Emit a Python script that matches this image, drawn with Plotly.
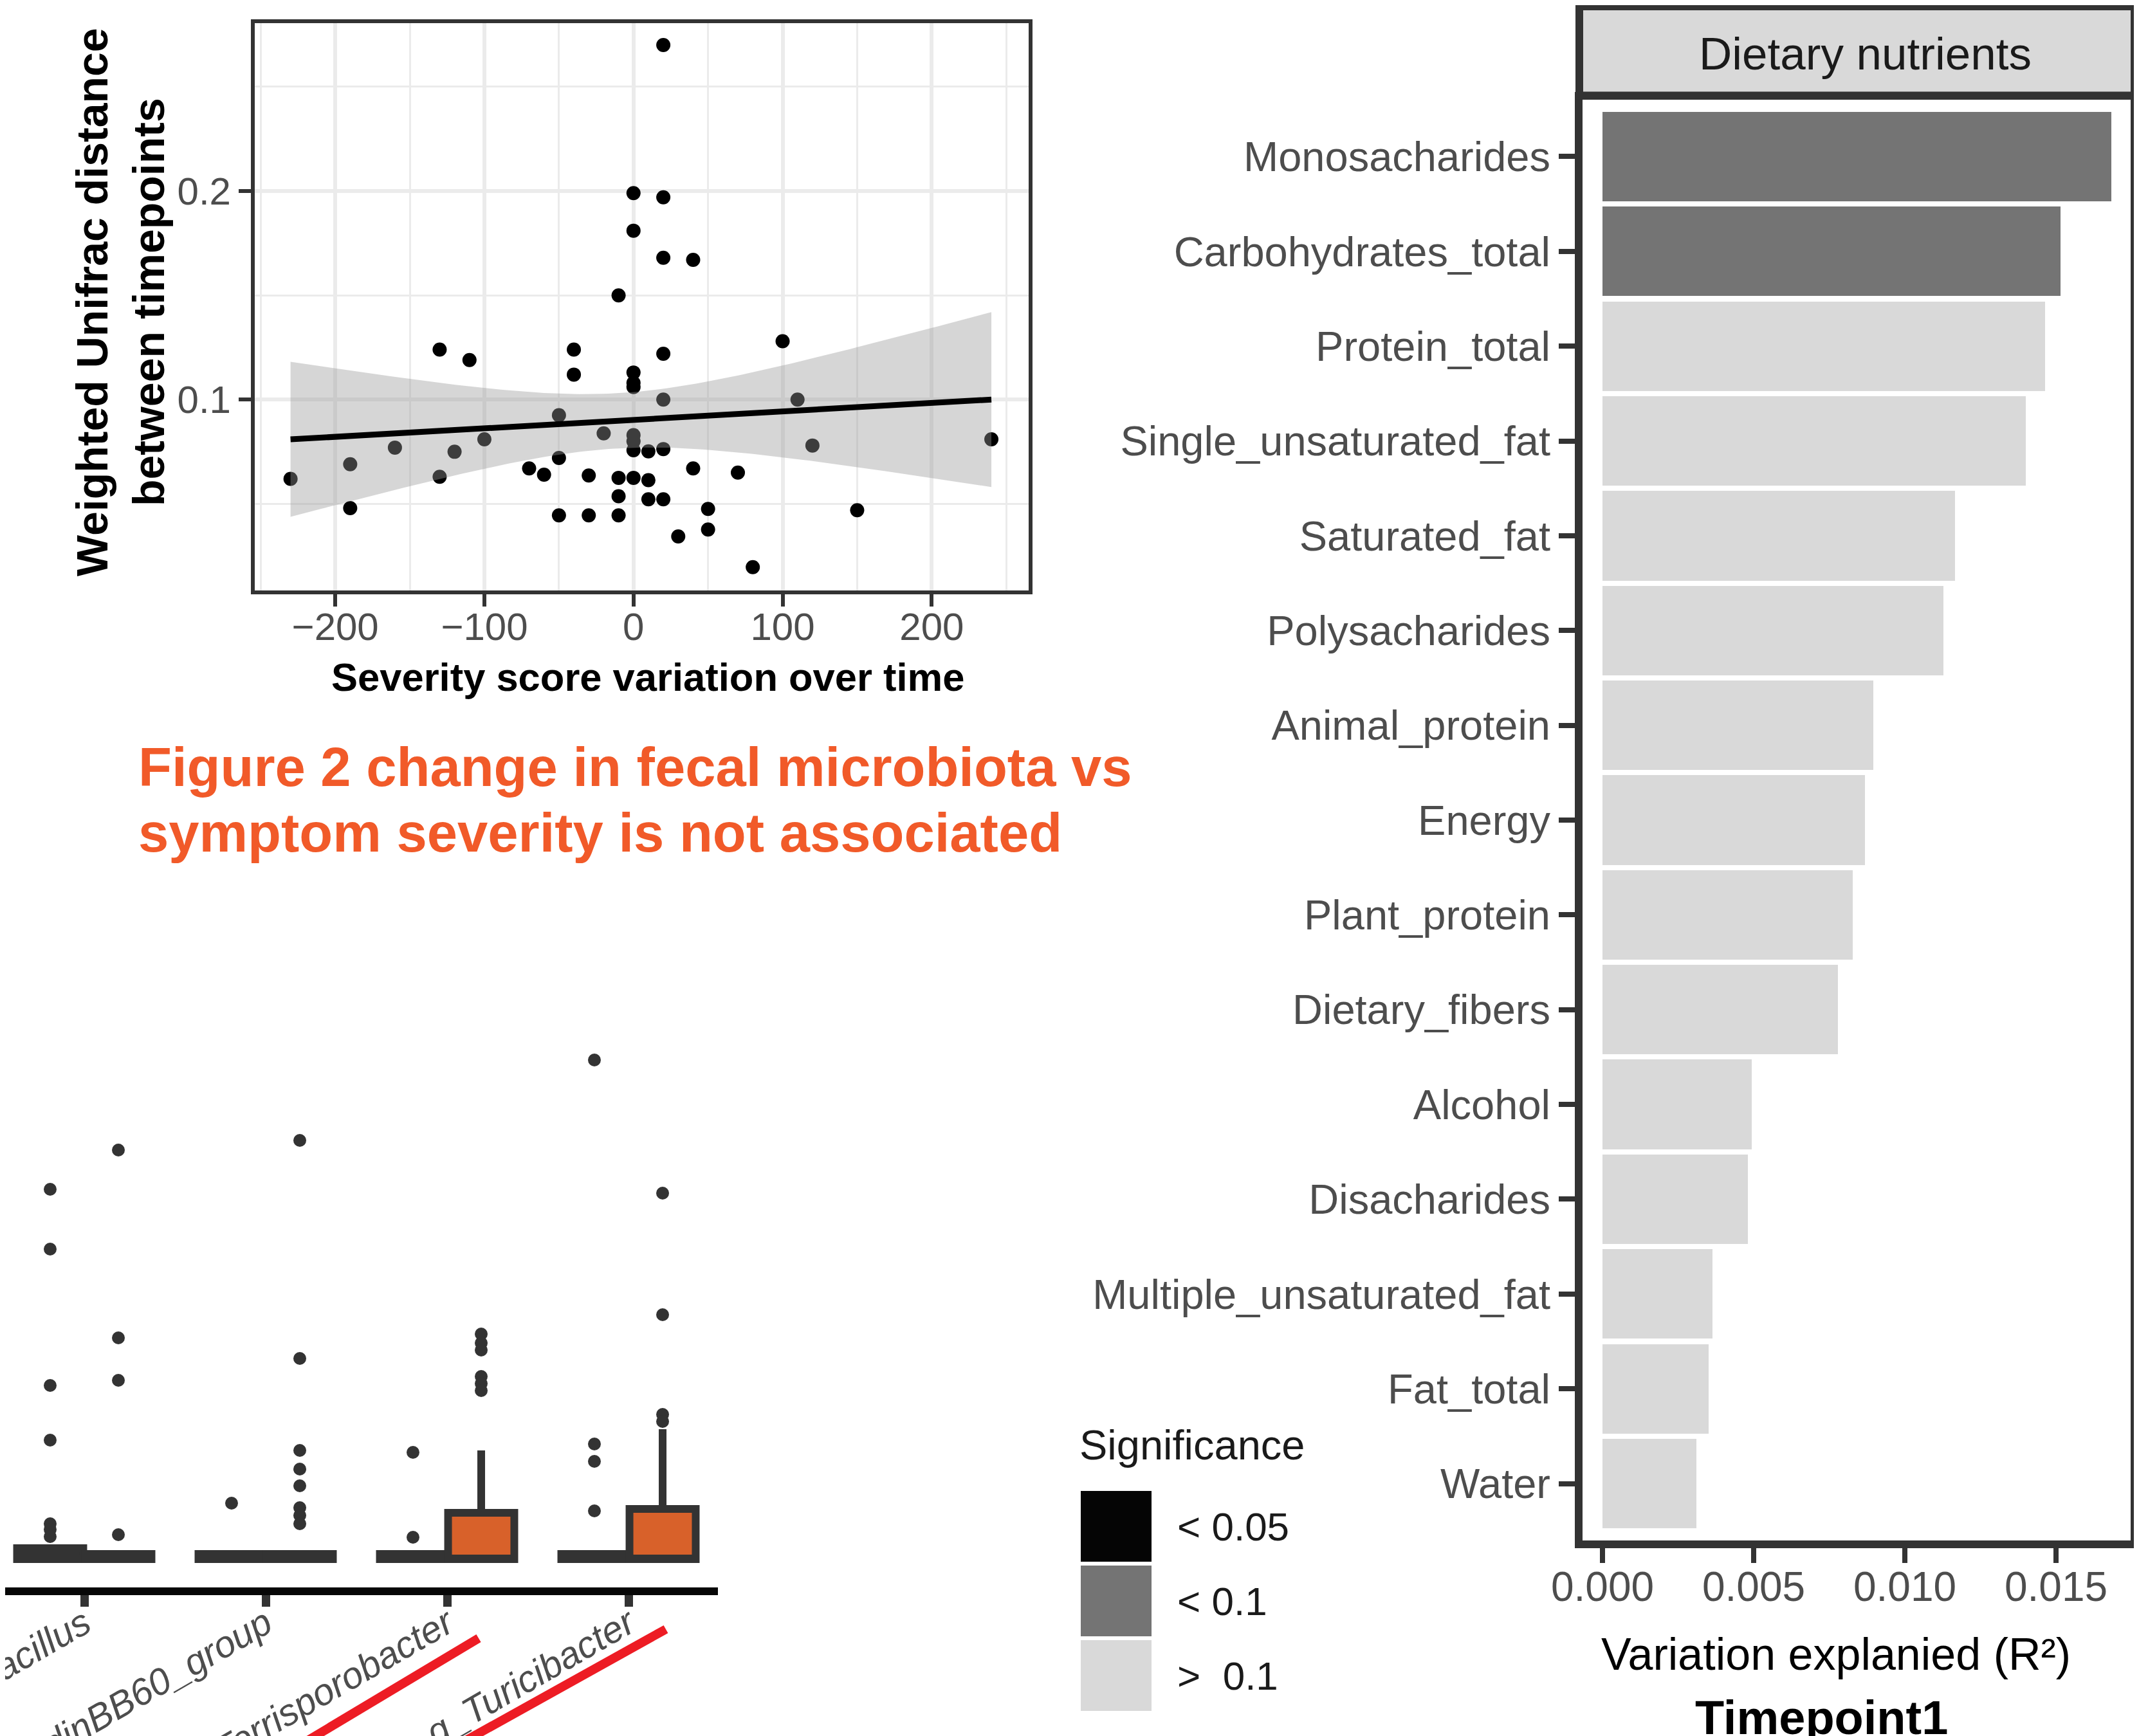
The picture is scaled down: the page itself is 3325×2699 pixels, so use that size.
import numpy as np
import plotly.graph_objects as go

W, H = 3325, 2699
OFF = 8  # page body margin compensation
FONT = "Liberation Sans, Arial, sans-serif"


def px(x):
    return (x - OFF) / W


def py(y):
    return 1 - (y - OFF) / H


# ---------------- Scatter data (panel top-left) ----------------
sev_x = [20, 0, 20, 0, 20, 40, -10, 100, -130, -40, 20, -110, -40, 0, 0, 0,
         20, 110, -50, -20, 0, 0, -100, -160, -120, 0, 10, 20, 120, 240,
         -190, -50, -70, -60, -130, -230, -30, -10, 0, 10, 40, 70, -10, 10,
         20, -190, -50, -30, -10, 50, 150, 50, 30, 80]
unifrac_y = [0.270, 0.199, 0.197, 0.181, 0.168, 0.167, 0.150, 0.128, 0.124,
             0.124, 0.122, 0.119, 0.112, 0.113, 0.108, 0.106, 0.100, 0.100,
             0.0925, 0.0838, 0.083, 0.080, 0.081, 0.077, 0.075, 0.0757,
             0.0752, 0.0763, 0.078, 0.081, 0.069, 0.072, 0.067, 0.064, 0.063,
             0.062, 0.0636, 0.0625, 0.0625, 0.0614, 0.067, 0.065, 0.0537,
             0.0522, 0.0522, 0.048, 0.0445, 0.0445, 0.0445, 0.0476, 0.047,
             0.0377, 0.0344, 0.0197]

# ---------------- Bar data (right panel) ----------------
nutrients = ["Monosacharides", "Carbohydrates_total", "Protein_total",
             "Single_unsaturated_fat", "Saturated_fat", "Polysacharides",
             "Animal_protein", "Energy", "Plant_protein", "Dietary_fibers",
             "Alcohol", "Disacharides", "Multiple_unsaturated_fat",
             "Fat_total", "Water"]
r2_values = [0.01683, 0.01514, 0.01463, 0.01399, 0.01166, 0.01128, 0.00895,
             0.00869, 0.00828, 0.00778, 0.00493, 0.00480, 0.00363, 0.00350,
             0.00311]
significance = ["< 0.1", "< 0.1", ">  0.1", ">  0.1", ">  0.1", ">  0.1",
                ">  0.1", ">  0.1", ">  0.1", ">  0.1", ">  0.1", ">  0.1",
                ">  0.1", ">  0.1", ">  0.1"]
sig_levels = ["< 0.05", "< 0.1", ">  0.1"]
sig_colors = ["#050505", "#747474", "#d9d9d9"]
r2_ticks = [0.0, 0.005, 0.010, 0.015]

# ---------------- Box data (bottom-left, cropped panel) ----------------
genera = ["g_Lactobacillus", "g_Clostridiales_vadinBB60_group",
          "g_Terrisporobacter", "g_Turicibacter"]
ctrl_q1 = [0, 0, 0, 0]
ctrl_median = [0, 0, 0, 0]
ctrl_q3 = [0.17, 0.08, 0.08, 0.08]
ctrl_upper = [0.17, 0.08, 0.08, 0.08]
ctrl_outliers = [[5.75, 4.82, 2.70, 1.85, 0.55, 0.46, 0.35],
                 [0.87],
                 [1.66, 0.34],
                 [7.76, 1.79, 1.52, 0.75]]
case_q1 = [0, 0, 0, 0]
case_median = [0, 0, 0, 0]
case_q3 = [0.08, 0.08, 0.72, 0.78]
case_upper = [0.08, 0.08, 1.69, 2.02]
case_outliers = [[6.36, 3.44, 2.78, 0.38],
                 [6.51, 3.12, 1.69, 1.40, 1.14, 0.80, 0.68, 0.55],
                 [3.50, 3.36, 3.25, 2.84, 2.73, 2.62],
                 [5.69, 3.80, 2.25, 2.14]]

fig = go.Figure()

# ---------- scatter + lm fit ----------
xs = np.array(sev_x, float)
ys = np.array(unifrac_y, float)
n = len(xs)
b1, b0 = np.polyfit(xs, ys, 1)
resid = ys - (b0 + b1 * xs)
s = np.sqrt(np.sum(resid ** 2) / (n - 2))
sxx = np.sum((xs - xs.mean()) ** 2)
t_crit = 2.007
xg = np.linspace(xs.min(), xs.max(), 120)
yfit = b0 + b1 * xg
se = s * np.sqrt(1.0 / n + (xg - xs.mean()) ** 2 / sxx)
lo, hi = yfit - t_crit * se, yfit + t_crit * se

fig.add_trace(go.Scatter(x=sev_x, y=unifrac_y, mode="markers",
                         marker=dict(color="black", size=22, line=dict(width=0)),
                         xaxis="x", yaxis="y", hoverinfo="skip"))
fig.add_trace(go.Scatter(x=np.concatenate([xg, xg[::-1]]),
                         y=np.concatenate([hi, lo[::-1]]),
                         fill="toself", fillcolor="rgba(153,153,153,0.4)",
                         line=dict(width=0), mode="lines",
                         xaxis="x", yaxis="y", hoverinfo="skip"))
fig.add_trace(go.Scatter(x=xg, y=yfit, mode="lines",
                         line=dict(color="black", width=9),
                         xaxis="x", yaxis="y", hoverinfo="skip"))

# ---------- bars ----------
for lvl, col in zip(sig_levels, sig_colors):
    idx = [i for i, s_ in enumerate(significance) if s_ == lvl]
    fig.add_trace(go.Bar(x=[r2_values[i] for i in idx],
                         y=[nutrients[i] for i in idx],
                         orientation="h", marker=dict(color=col, line=dict(width=0)),
                         width=0.945, xaxis="x2", yaxis="y2", name=lvl))

# ---------- boxes ----------
dodge = 0.188
bw = 0.365
groups = [
    ("Control", -dodge, "#333333", ctrl_q1, ctrl_median, ctrl_q3, ctrl_upper, ctrl_outliers),
    ("Case", dodge, "#D8612A", case_q1, case_median, case_q3, case_upper, case_outliers),
]
for name, off, fill, q1, med, q3, up, outl in groups:
    pos = [i + off for i in range(len(genera))]
    fig.add_trace(go.Box(x=pos, q1=q1, median=med, q3=q3,
                         lowerfence=q1, upperfence=up, width=bw,
                         fillcolor=fill, line=dict(color="#333333", width=12),
                         whiskerwidth=0, boxpoints=False, name=name,
                         xaxis="x3", yaxis="y3"))
    ox, oy = [], []
    for i, vals in enumerate(outl):
        ox += [i + off] * len(vals)
        oy += vals
    fig.add_trace(go.Scatter(x=ox, y=oy, mode="markers",
                             marker=dict(color="#333333", size=20, line=dict(width=0)),
                             xaxis="x3", yaxis="y3", hoverinfo="skip"))

grid = "#ebebeb"
frame = "#333333"
fig.update_layout(
    width=W, height=H, margin=dict(l=0, r=0, t=0, b=0, pad=0, autoexpand=False),
    paper_bgcolor="white", plot_bgcolor="white", showlegend=False,
    font=dict(family=FONT, color="#1a1a1a"),
    barmode="overlay", bargap=0,
    xaxis=dict(domain=[px(396), px(1599)], range=[-254, 265], anchor="y",
               automargin=False, ticklabelstandoff=-20,
               showline=True, mirror=True, linecolor=frame, linewidth=6,
               ticks="outside", ticklen=19, tickwidth=6, tickcolor=frame,
               tick0=0, dtick=100, tickfont=dict(size=60, color="#4d4d4d"),
               showgrid=True, gridcolor=grid, gridwidth=6, zeroline=False,
               minor=dict(dtick=50, tick0=0, showgrid=True, gridcolor=grid,
                          gridwidth=3, ticks="")),
    yaxis=dict(domain=[py(918), py(36)], range=[0.0085, 0.2805], anchor="x",
               automargin=False,
               showline=True, mirror=True, linecolor=frame, linewidth=6,
               ticks="outside", ticklen=19, tickwidth=6, tickcolor=frame,
               tick0=0, dtick=0.1, tickfont=dict(size=60, color="#4d4d4d"),
               showgrid=True, gridcolor=grid, gridwidth=6, zeroline=False,
               minor=dict(dtick=0.05, tick0=0, showgrid=True, gridcolor=grid,
                          gridwidth=3, ticks="")),
    xaxis2=dict(domain=[px(2460), px(3312)], range=[-0.00066, 0.017468],
                anchor="y2", automargin=False, ticklabelstandoff=-18,
                showline=True, mirror=True, linecolor=frame,
                linewidth=12, ticks="outside", ticklen=23, tickwidth=8,
                tickcolor=frame, tickvals=r2_ticks, tickformat=".3f",
                tickfont=dict(size=64, color="#4d4d4d"), showgrid=False,
                zeroline=False),
    yaxis2=dict(domain=[py(2395), py(155)], type="category",
                categoryorder="array", categoryarray=nutrients[::-1],
                range=[-0.6, 14.6], anchor="x2", automargin=False,
                showline=True, mirror=True,
                linecolor=frame, linewidth=12, ticks="outside", ticklen=25,
                tickwidth=8, tickcolor=frame,
                tickfont=dict(size=65, color="#4d4d4d"), showgrid=False,
                zeroline=False),
    xaxis3=dict(domain=[0, px(1116)], range=[(OFF - 131) / 282, 3 + (1116 - 977) / 282],
                anchor="y3", automargin=False, ticklabeloverflow="allow",
                ticklabelstandoff=-30,
                tickvals=list(range(len(genera))), ticktext=genera,
                tickangle=-30, showline=True, linecolor="#070707", linewidth=12,
                ticks="outside", ticklen=18, tickwidth=13, tickcolor=frame,
                tickfont=dict(size=58, color="#4d4d4d", style="italic"),
                showgrid=False, zeroline=False),
    yaxis3=dict(domain=[py(2468), py(1610)], range=[-0.44, 8.14], anchor="x3",
                automargin=False, visible=False),
)

shapes = [
    # facet strip
    dict(type="rect", xref="paper", yref="paper", x0=px(2455), x1=px(3318),
         y0=py(148.5), y1=py(10), fillcolor="#d9d9d9",
         line=dict(color=frame, width=12), layer="above"),
    # red underlines
    dict(type="line", xref="paper", yref="paper", x0=px(744), y0=py(2547),
         x1=px(455), y1=py(2720), line=dict(color="#ED1C24", width=14)),
    dict(type="line", xref="paper", yref="paper", x0=px(1035), y0=py(2533),
         x1=px(699), y1=py(2720), line=dict(color="#ED1C24", width=14)),
]


def ann(text, x, y, size, color="black", xanchor="center", angle=0, align="center"):
    return dict(text=text, x=px(x), y=py(y), xref="paper", yref="paper",
                xanchor=xanchor, yanchor="middle", align=align, textangle=angle,
                showarrow=False, font=dict(size=size, color=color))


annotations = [
    ann("Dietary nutrients", 2899, 84, 71, "#1a1a1a"),
    ann("<b>Weighted Unifrac distance<br>between timepoints</b>", 187, 470, 68,
        angle=-90),
    ann("<b>Severity score variation over time</b>", 1007, 1052, 61.5),
    ann("<b>Figure 2 change in fecal microbiota vs</b>", 213, 1192, 85,
        "#F15A29", xanchor="left", align="left"),
    ann("<b>symptom severity is not associated</b>", 213, 1294, 85,
        "#F15A29", xanchor="left", align="left"),
    ann("Variation explanied (R²)", 2854, 2572, 70),
    ann("<b>Timepoint1</b>", 2831, 2670, 74),
    ann("Significance", 1676, 2246, 65, "#1a1a1a", xanchor="left"),
]
sw_top = [2318, 2434, 2550]
for lvl, col, top in zip(sig_levels, sig_colors, sw_top):
    shapes.append(dict(type="rect", xref="paper", yref="paper", x0=px(1680),
                       x1=px(1790), y0=py(top + 110), y1=py(top),
                       fillcolor=col, line=dict(width=0)))
    annotations.append(ann(lvl.replace(" ", "&nbsp;"), 1828, top + 55, 62,
                           "#1a1a1a", xanchor="left"))

fig.update_layout(shapes=shapes, annotations=annotations)
fig.write_html("out.html")
